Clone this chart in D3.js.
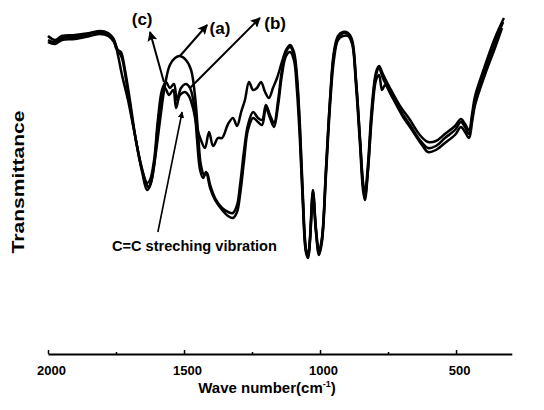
<!DOCTYPE html>
<html>
<head>
<meta charset="utf-8">
<script src="https://cdn.jsdelivr.net/npm/d3@7/dist/d3.min.js"></script>
<style>
body{margin:0;background:#fff;}
svg text{font-family:"Liberation Sans",Arial,sans-serif;font-weight:bold;fill:#000;}
</style>
</head>
<body>
<svg id="chart"></svg>
<script>
// spectra (wave number cm-1, transmittance in arbitrary %)
var waveA=[2000,1974,1949,1901,1846,1809,1779,1757,1743,1728,1706,1684,1662,1643,1632,1621,1607,1588,1570,1552,1533,1515,1493,1474,1460,1449,1438,1426,1416,1404,1386,1360,1338,1320,1305,1294,1279,1265,1246,1228,1213,1199,1184,1169,1154,1140,1125,1110,1096,1085,1074,1063,1052,1044,1037,1026,1015,1004,993,978,963,949,934,916,897,882,868,853,842,835,824,809,794,783,769,743,706,669,633,603,574,541,504,482,467,452,441,430,394,357,327];
var transA=[94.2,93.6,94.8,95.1,96,96.6,96,94.2,89.7,83.7,76.2,67.2,58.2,52.2,50.1,51.6,58.2,70.2,80.7,86.7,88.8,89.4,88.2,85.2,77.7,67.2,56.7,53.7,54.3,50.7,46.8,43.8,42.6,42.3,44.7,50.7,61.2,68.7,72.6,70.8,70.2,74.7,71.7,69.3,76.2,85.2,90.6,92.1,89.7,82.2,67.2,46.2,31.2,29.1,34.2,48.6,37.2,30.3,34.2,55.2,76.2,89.7,94.8,96.3,96,93.6,82.2,64.2,50.7,47.1,55.2,73.2,83.7,85.8,82.8,78.6,73.2,68.7,64.2,61.8,62.4,64.8,67.2,69.6,68.1,66,70.8,76.2,85.2,93.6,99.6];

var waveB=[2000,1974,1949,1901,1846,1809,1779,1761,1750,1739,1728,1713,1699,1677,1654,1636,1625,1610,1596,1581,1566,1552,1537,1526,1511,1493,1478,1463,1452,1441,1430,1419,1404,1386,1360,1338,1320,1305,1294,1279,1265,1246,1228,1213,1199,1184,1169,1154,1140,1125,1110,1096,1085,1074,1063,1052,1044,1037,1026,1015,1004,993,978,963,949,934,916,897,882,868,853,842,835,824,809,794,783,772,761,735,699,662,625,603,574,541,504,482,467,452,441,430,394,357,331];
var transB=[95.4,94.2,95.4,95.7,96.3,96.9,96.3,94.8,91.8,90.6,88.8,82.2,74.7,64.2,55.2,51.3,52.2,58.2,70.2,79.2,81.6,79.8,81,76.2,79.8,81,79.8,74.7,64.2,55.2,52.8,54.6,49.8,46.2,43.2,41.4,40.8,42.6,47.7,58.2,67.2,70.8,69.6,68.7,73.8,70.8,68.1,74.7,83.7,89.4,90.6,88.2,79.2,64.2,44.7,30.6,28.8,33.6,47.7,36.6,29.7,33.6,53.7,74.7,88.2,94.2,95.4,95.4,93,80.7,62.7,49.2,46.2,54.6,71.7,82.2,83.7,79.2,80.7,77.1,71.7,67.2,62.7,60.6,61.2,63.3,65.7,68.1,66.6,64.8,69.6,74.7,83.7,91.8,97.8];

var waveC=[2000,1974,1949,1901,1846,1809,1779,1757,1743,1732,1717,1699,1677,1654,1636,1625,1610,1596,1581,1570,1555,1540,1529,1515,1496,1482,1467,1452,1438,1423,1408,1393,1375,1360,1338,1320,1305,1290,1276,1261,1246,1232,1217,1202,1188,1173,1158,1140,1125,1110,1096,1085,1074,1063,1052,1044,1037,1026,1015,1004,993,978,963,949,934,916,897,882,868,853,842,835,824,809,794,783,769,743,706,669,633,603,574,541,504,482,467,452,441,430,394,357,324];
var transC=[93.6,93,94.2,94.5,95.4,96,95.4,93.6,91.2,90.6,85.2,76.2,64.2,54.6,49.2,50.4,56.7,68.7,77.7,79.8,77.7,79.2,73.8,77.7,78.6,77.4,73.8,67.8,64.2,61.8,66.6,62.4,64.8,64.8,69,70.8,68.4,72.6,76.2,81.6,79.2,79.8,81.6,78.6,76.8,79.8,82.8,87.6,91.2,92.7,90.6,83.7,68.7,47.7,31.8,29.4,34.8,49.2,37.8,30.9,34.8,55.8,76.8,90.6,95.4,96.6,96.3,94.2,82.8,64.8,51.6,48,56.7,74.7,84.6,86.4,84,79.8,74.4,70.2,65.7,63.6,63.9,66,68.4,70.5,69,67.2,72,77.4,86.4,94.8,100.8];

var majorTicks=[2000,1500,1000,500];
var minorTicks=[1750,1250,750];
var tickLabels=["2000","1500","1000","500"];

// curve labels and arrows: [from wave, from T, to wave, to T]
var arrowNames=["(a)","(b)","(c)"];
var arrowLines=[[1515,89.4,1415,98.7],[1478,79.8,1221,100.8],[1574,81.6,1625,96.6]];
var labelPos=[[1368,96],[1165,97.5],[1654,98.7]];
var ccLine=[1596,36.6,1507,72.6];
var ccText="C=C streching vibration";

var screen={width:544,height:410};

var svg=d3.select("#chart")
    .attr("width",screen.width)
    .attr("height",screen.height);

var xScale=d3.scaleLinear().domain([2000,295]).range([48,511.8]);
var yScale=d3.scaleLinear().domain([0,100]).range([354,20.67]);

var defs=svg.append("defs");
defs.append("marker")
    .attr("id","head")
    .attr("viewBox","0 0 10 10")
    .attr("refX",9).attr("refY",5)
    .attr("markerWidth",5).attr("markerHeight",5)
    .attr("markerUnits","strokeWidth")
    .attr("orient","auto")
    .append("path")
    .attr("d","M0,0 L10,5 L0,10 L2,5 Z")
    .attr("fill","#000");
defs.append("marker")
    .attr("id","smallhead")
    .attr("viewBox","0 0 10 10")
    .attr("refX",9).attr("refY",5)
    .attr("markerWidth",4).attr("markerHeight",4)
    .attr("markerUnits","strokeWidth")
    .attr("orient","auto")
    .append("path")
    .attr("d","M0,0 L10,5 L0,10 Z")
    .attr("fill","#000");

var lineGen=d3.line()
    .x(function(d){return xScale(d[0]);})
    .y(function(d){return yScale(d[1]);})
    .curve(d3.curveCatmullRom.alpha(0.5));

var series=[d3.zip(waveA,transA),d3.zip(waveB,transB),d3.zip(waveC,transC)];

svg.append("g")
    .selectAll("path")
    .data(series)
    .enter()
    .append("path")
    .attr("d",lineGen)
    .attr("fill","none")
    .attr("stroke","#000")
    .attr("stroke-width",2.5)
    .attr("stroke-linejoin","round");

// x axis
var axis=d3.axisBottom(xScale)
    .tickValues(majorTicks)
    .tickFormat(function(d,i){return tickLabels[i];})
    .tickSize(-4)
    .tickSizeOuter(0)
    .tickPadding(12);

var ax=svg.append("g")
    .attr("transform","translate(0,354)")
    .call(axis);
ax.select(".domain").attr("stroke-width",2);
ax.selectAll(".tick line").attr("stroke-width",1.5);
ax.selectAll(".tick text")
    .attr("font-size",13)
    .attr("dx",3);
ax.attr("font-family",null).attr("font-size",null);

var minor=svg.append("g")
    .attr("transform","translate(0,354)")
    .call(d3.axisBottom(xScale).tickValues(minorTicks).tickSize(-2).tickFormat(""));
minor.select(".domain").remove();
minor.selectAll(".tick line").attr("stroke-width",1.5);

svg.append("text")
    .attr("x",267)
    .attr("y",393)
    .attr("text-anchor","middle")
    .attr("font-size",15)
    .text("Wave number(cm")
    .append("tspan")
    .attr("font-size",9)
    .attr("dy",-6)
    .text("-1")
    .select(function(){return this.parentNode;})
    .append("tspan")
    .attr("dy",6)
    .text(")");

svg.append("text")
    .attr("transform","translate(24,182) rotate(-90)")
    .attr("text-anchor","middle")
    .attr("font-size",17)
    .attr("textLength",143)
    .attr("lengthAdjust","spacingAndGlyphs")
    .text("Transmittance");

// arrows to curve labels
svg.append("g")
    .selectAll("line")
    .data(arrowLines)
    .enter()
    .append("line")
    .attr("x1",function(d){return xScale(d[0]);})
    .attr("y1",function(d){return yScale(d[1]);})
    .attr("x2",function(d){return xScale(d[2]);})
    .attr("y2",function(d){return yScale(d[3]);})
    .attr("stroke","#000")
    .attr("stroke-width",2)
    .attr("marker-end","url(#head)");

svg.append("g")
    .selectAll("text")
    .data(labelPos)
    .enter()
    .append("text")
    .attr("x",function(d){return xScale(d[0]);})
    .attr("y",function(d){return yScale(d[1]);})
    .attr("text-anchor","middle")
    .attr("font-size",17)
    .text(function(d,i){return arrowNames[i];});

svg.append("line")
    .attr("x1",xScale(ccLine[0]))
    .attr("y1",yScale(ccLine[1]))
    .attr("x2",xScale(ccLine[2]))
    .attr("y2",yScale(ccLine[3]))
    .attr("stroke","#000")
    .attr("stroke-width",1.6)
    .attr("marker-end","url(#smallhead)");

svg.append("text")
    .attr("x",xScale(1765))
    .attr("y",yScale(30.9))
    .attr("font-size",14.5)
    .attr("textLength",165)
    .attr("lengthAdjust","spacingAndGlyphs")
    .text(ccText);
</script>
</body>
</html>
